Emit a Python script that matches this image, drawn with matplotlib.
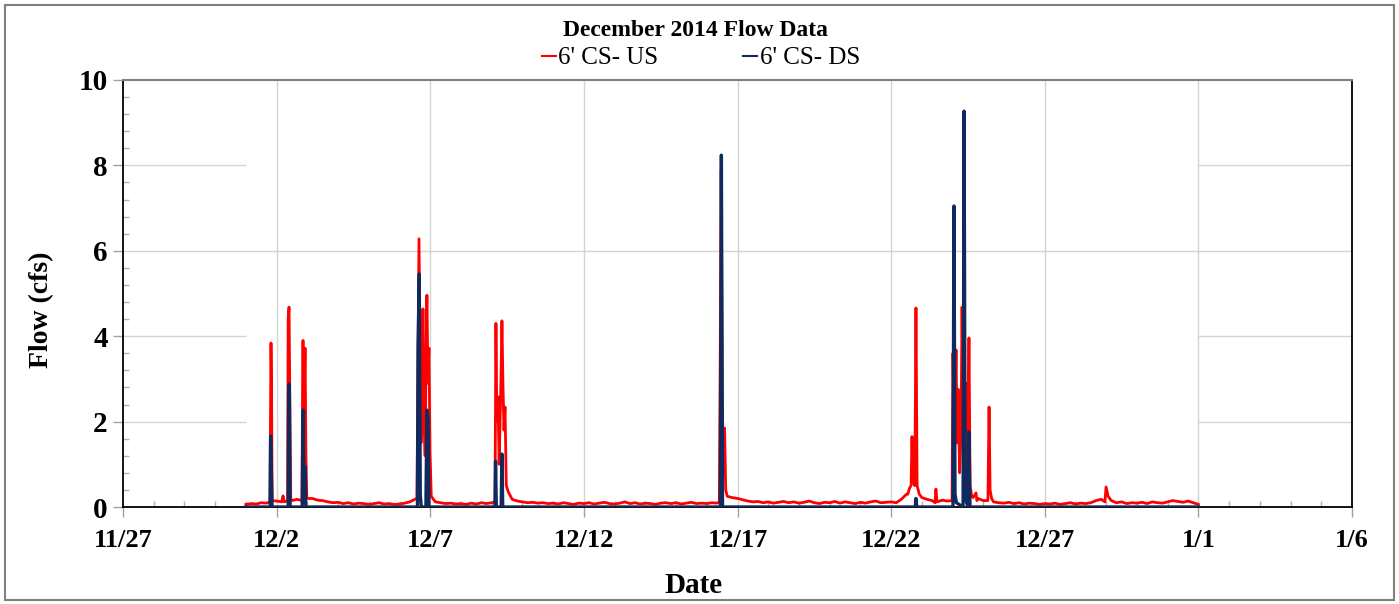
import numpy as np
import matplotlib
matplotlib.use("Agg")
import matplotlib.pyplot as plt
import matplotlib.dates as mdates
from matplotlib.patches import Rectangle
from matplotlib.ticker import FixedLocator, MultipleLocator
from datetime import datetime, timedelta

# ---------------- data ----------------
title = "December 2014 Flow Data"
series_names = ["6' CS- US", "6' CS- DS"]
series_colors = ["#ff0000", "#0f2a5e"]

record_start = datetime(2014, 12, 1)

# upstream baseline flow, one reading every 4 hours (cfs)
us_base_step_h = 4
us_base_flow = [
    0.06, 0.08, 0.07, 0.10, 0.09, 0.12,
    0.14, 0.20, 0.12, 0.15, 0.18, 0.12,
    0.22, 0.20, 0.16, 0.15, 0.12, 0.10,
    0.11, 0.08, 0.10, 0.07, 0.09, 0.08,
    0.06, 0.08, 0.10, 0.07, 0.08, 0.06,
    0.07, 0.09, 0.12, 0.18, 0.20, 0.22,
    0.16, 0.12, 0.10, 0.08, 0.09, 0.07,
    0.08, 0.06, 0.09, 0.07, 0.10, 0.08,
    0.10, 0.12, 0.38, 0.25, 0.18, 0.14,
    0.12, 0.10, 0.11, 0.09, 0.10, 0.08,
    0.09, 0.07, 0.10, 0.08, 0.06, 0.09,
    0.08, 0.10, 0.07, 0.09, 0.11, 0.08,
    0.07, 0.09, 0.12, 0.08, 0.10, 0.07,
    0.09, 0.08, 0.06, 0.09, 0.10, 0.08,
    0.10, 0.07, 0.09, 0.11, 0.08, 0.09,
    0.08, 0.10, 0.09, 0.12, 0.25, 0.22,
    0.20, 0.17, 0.14, 0.12, 0.13, 0.10,
    0.12, 0.09, 0.11, 0.13, 0.10, 0.12,
    0.09, 0.11, 0.14, 0.10, 0.08, 0.11,
    0.10, 0.13, 0.09, 0.12, 0.10, 0.08,
    0.11, 0.09, 0.12, 0.14, 0.10, 0.11,
    0.12, 0.10, 0.18, 0.30, 0.45, 0.35,
    0.22, 0.18, 0.15, 0.13, 0.16, 0.14,
    0.20, 0.25, 0.30, 0.28, 0.22, 0.20,
    0.15, 0.18, 0.12, 0.10, 0.09, 0.11,
    0.08, 0.10, 0.07, 0.09, 0.08, 0.06,
    0.08, 0.07, 0.09, 0.06, 0.08, 0.10,
    0.07, 0.09, 0.08, 0.10, 0.15, 0.18,
    0.25, 0.14, 0.10, 0.12, 0.08, 0.10,
    0.09, 0.11, 0.08, 0.12, 0.10, 0.09,
    0.12, 0.15, 0.13, 0.11, 0.14, 0.10,
    0.06,
]

# upstream storm readings: hours after record start, flow (cfs)
us_event_hours = [
    18.8, 19.2, 19.6, 20.0, 20.5,
    28.0, 29.0, 30.0,
    32.6, 33.0, 33.7, 34.3, 35.0,
    43.8, 44.3, 44.6, 45.3, 46.2, 46.9, 47.6,
    133.6, 134.4, 135.2, 136.0, 136.8, 137.6, 138.3, 139.2, 140.0, 140.8,
    141.4, 142.2, 143.0, 143.8, 144.8,
    194.6, 195.3, 196.0, 196.9, 197.8, 199.2, 200.0, 200.8, 201.6, 202.4,
    203.4, 205.0,
    369.8, 370.5, 371.3, 372.2, 373.2, 373.9, 374.8,
    517.0, 518.5, 519.6, 520.3, 521.0, 522.5, 523.4, 524.3, 526.0,
    538.3, 539.0, 539.8,
    551.6, 552.3, 553.5, 554.7, 555.5, 556.3, 557.5, 558.6, 559.4, 560.5,
    561.7, 562.5, 563.6, 564.8, 565.7, 567.0, 570.3, 571.0,
    579.6, 580.5, 581.3, 582.5,
    671.0, 671.9, 673.5, 676.0,
]
us_event_flow = [
    0.12, 2.10, 3.84, 2.90, 0.15,
    0.12, 0.26, 0.12,
    0.15, 4.40, 4.68, 2.50, 0.20,
    0.15, 3.00, 3.90, 2.00, 3.72, 1.20, 0.20,
    0.20, 3.20, 6.28, 4.00, 1.50, 2.50, 4.64, 2.00, 1.20, 3.80,
    4.96, 2.90, 3.72, 1.30, 0.25,
    0.12, 4.30, 2.00, 2.58, 1.00, 2.90, 4.36, 2.86, 1.80, 2.34,
    0.50, 0.35,
    0.12, 3.50, 7.90, 2.00, 1.00, 1.85, 0.40,
    0.30, 0.45, 0.50, 1.65, 0.60, 0.50, 4.66, 0.50, 0.30,
    0.10, 0.42, 0.12,
    0.15, 3.60, 1.50, 3.68, 1.50, 2.76, 0.80, 1.80, 4.68, 1.50,
    0.80, 2.90, 0.60, 3.96, 0.50, 0.25, 0.33, 0.15,
    0.15, 2.34, 0.40, 0.20,
    0.12, 0.47, 0.25, 0.15,
]

# downstream readings: hours after record start, flow (cfs); zero between storms
ds_hours = [
    0.0,
    18.9, 19.3, 19.9, 20.4,
    33.0, 33.4, 33.9, 34.5,
    44.0, 44.6, 45.4, 46.2, 46.8,
    134.0, 134.5, 135.4, 136.2, 137.0,
    140.6, 141.4, 142.2, 143.0,
    194.6, 195.0, 195.6, 199.4, 200.0, 200.6,
    370.6, 371.4, 372.3,
    522.8, 523.4, 524.0,
    552.3, 553.1, 553.9, 555.0, 560.2, 561.0, 561.8, 563.0, 564.0, 564.8, 565.6,
    744.0,
]
ds_flow = [
    0.0,
    0.0, 1.66, 0.80, 0.0,
    0.0, 2.80, 2.88, 0.0,
    0.0, 2.27, 0.10, 0.94, 0.0,
    0.0, 3.75, 5.46, 0.30, 0.0,
    0.0, 2.27, 2.08, 0.0,
    0.0, 1.07, 0.0, 0.0, 1.24, 0.0,
    0.0, 8.24, 0.0,
    0.0, 0.20, 0.0,
    0.0, 7.05, 0.30, 0.10, 0.0, 9.27, 0.40, 0.10, 0.0, 1.76, 0.0,
    0.0,
]

x_tick_dates = [datetime(2014, 11, 27) + timedelta(days=5 * i) for i in range(9)]
x_tick_labels = ["11/27", "12/2", "12/7", "12/12", "12/17", "12/22", "12/27", "1/1", "1/6"]
y_ticks = [0, 2, 4, 6, 8, 10]

# ---------------- assemble series ----------------
base_h = np.arange(len(us_base_flow)) * us_base_step_h
base_v = np.array(us_base_flow)
ev_h = np.array(us_event_hours)
ev_v = np.array(us_event_flow)
# storm readings replace the routine readings that fall inside a storm
near = np.min(np.abs(base_h[:, None] - ev_h[None, :]), axis=1) < 1.0
us_h = np.concatenate([base_h[~near], ev_h])
us_v = np.concatenate([base_v[~near], ev_v])
order = np.argsort(us_h)
us_h, us_v = us_h[order], us_v[order]

t0 = mdates.date2num(record_start)
us_t = t0 + us_h / 24.0
ds_t = t0 + np.array(ds_hours) / 24.0

# ---------------- figure ----------------
serif = ["Liberation Serif", "DejaVu Serif"]
plt.rcParams["font.family"] = serif

fig = plt.figure(figsize=(13.99, 6.04), dpi=100)
ax = fig.add_axes([123 / 1399, 97 / 604, 1229 / 1399, 427 / 604])

# outer chart border
fig.patches.append(Rectangle((5 / 1399, 4 / 604), 1389 / 1399, 595 / 604,
                             transform=fig.transFigure, fill=False,
                             edgecolor="#7f7f7f", linewidth=1.5))

xmin, xmax = mdates.date2num(x_tick_dates[0]), mdates.date2num(x_tick_dates[-1])
ax.set_xlim(xmin, xmax)
ax.set_ylim(0, 10)

grid_kw = dict(color="#d4d4d4", linewidth=1.0, zorder=0)
for d in x_tick_dates[1:-1]:
    ax.axvline(mdates.date2num(d), **grid_kw)
data_lo, data_hi = us_t[0], t0 + 744 / 24.0
for yv in y_ticks[1:-1]:
    if yv == 6:
        ax.hlines(yv, xmin, xmax, **grid_kw)
    else:
        ax.hlines(yv, xmin, data_lo, **grid_kw)
        ax.hlines(yv, data_hi, xmax, **grid_kw)

ax.plot(us_t, us_v, color=series_colors[0], linewidth=2.0, label=series_names[0], zorder=3)
ax.plot(ds_t, ds_flow, color=series_colors[1], linewidth=2.4, label=series_names[1], zorder=4)

# axes frame
for side in ["left", "right", "bottom"]:
    ax.spines[side].set_color("black")
    ax.spines[side].set_linewidth(1.3)
ax.spines["top"].set_color("#808080")
ax.spines["top"].set_linewidth(1.5)

ax.xaxis.set_major_locator(FixedLocator([mdates.date2num(d) for d in x_tick_dates]))
ax.set_xticklabels(x_tick_labels)
ax.xaxis.set_minor_locator(MultipleLocator(1.0))
ax.yaxis.set_major_locator(FixedLocator(y_ticks))
ax.set_yticklabels([str(v) for v in y_ticks])
ax.yaxis.set_minor_locator(MultipleLocator(0.4))

ax.tick_params(axis="both", which="major", direction="out", length=7, width=1,
               color="#a0a0a0", labelsize=19, pad=4)
ax.tick_params(axis="y", which="major", labelsize=21)
ax.tick_params(axis="both", which="minor", direction="in", length=4, width=1, color="#b0b0b0")
ax.tick_params(axis="x", which="major", pad=9)
for lbl in ax.get_xticklabels() + ax.get_yticklabels():
    lbl.set_fontweight("bold")

ax.set_xlabel("Date", fontsize=21, fontweight="bold", va="center")
ax.xaxis.set_label_coords(0.464, -0.183)
ax.set_ylabel("Flow (cfs)", fontsize=20, fontweight="bold", va="center")
ax.yaxis.set_label_coords(-0.066, 0.461)

fig.text(0.497, 1 - 31 / 604, title, ha="center", va="center",
         fontsize=17, fontweight="bold")

leg = fig.legend(loc="center", bbox_to_anchor=(0.501, 1 - 58 / 604), ncol=2, frameon=False,
                 fontsize=18, handlelength=0.55, handletextpad=0.1, columnspacing=3.4,
                 borderaxespad=0, borderpad=0)
for line in leg.get_lines():
    line.set_linewidth(1.5)

fig.savefig("out.png", dpi=100)
